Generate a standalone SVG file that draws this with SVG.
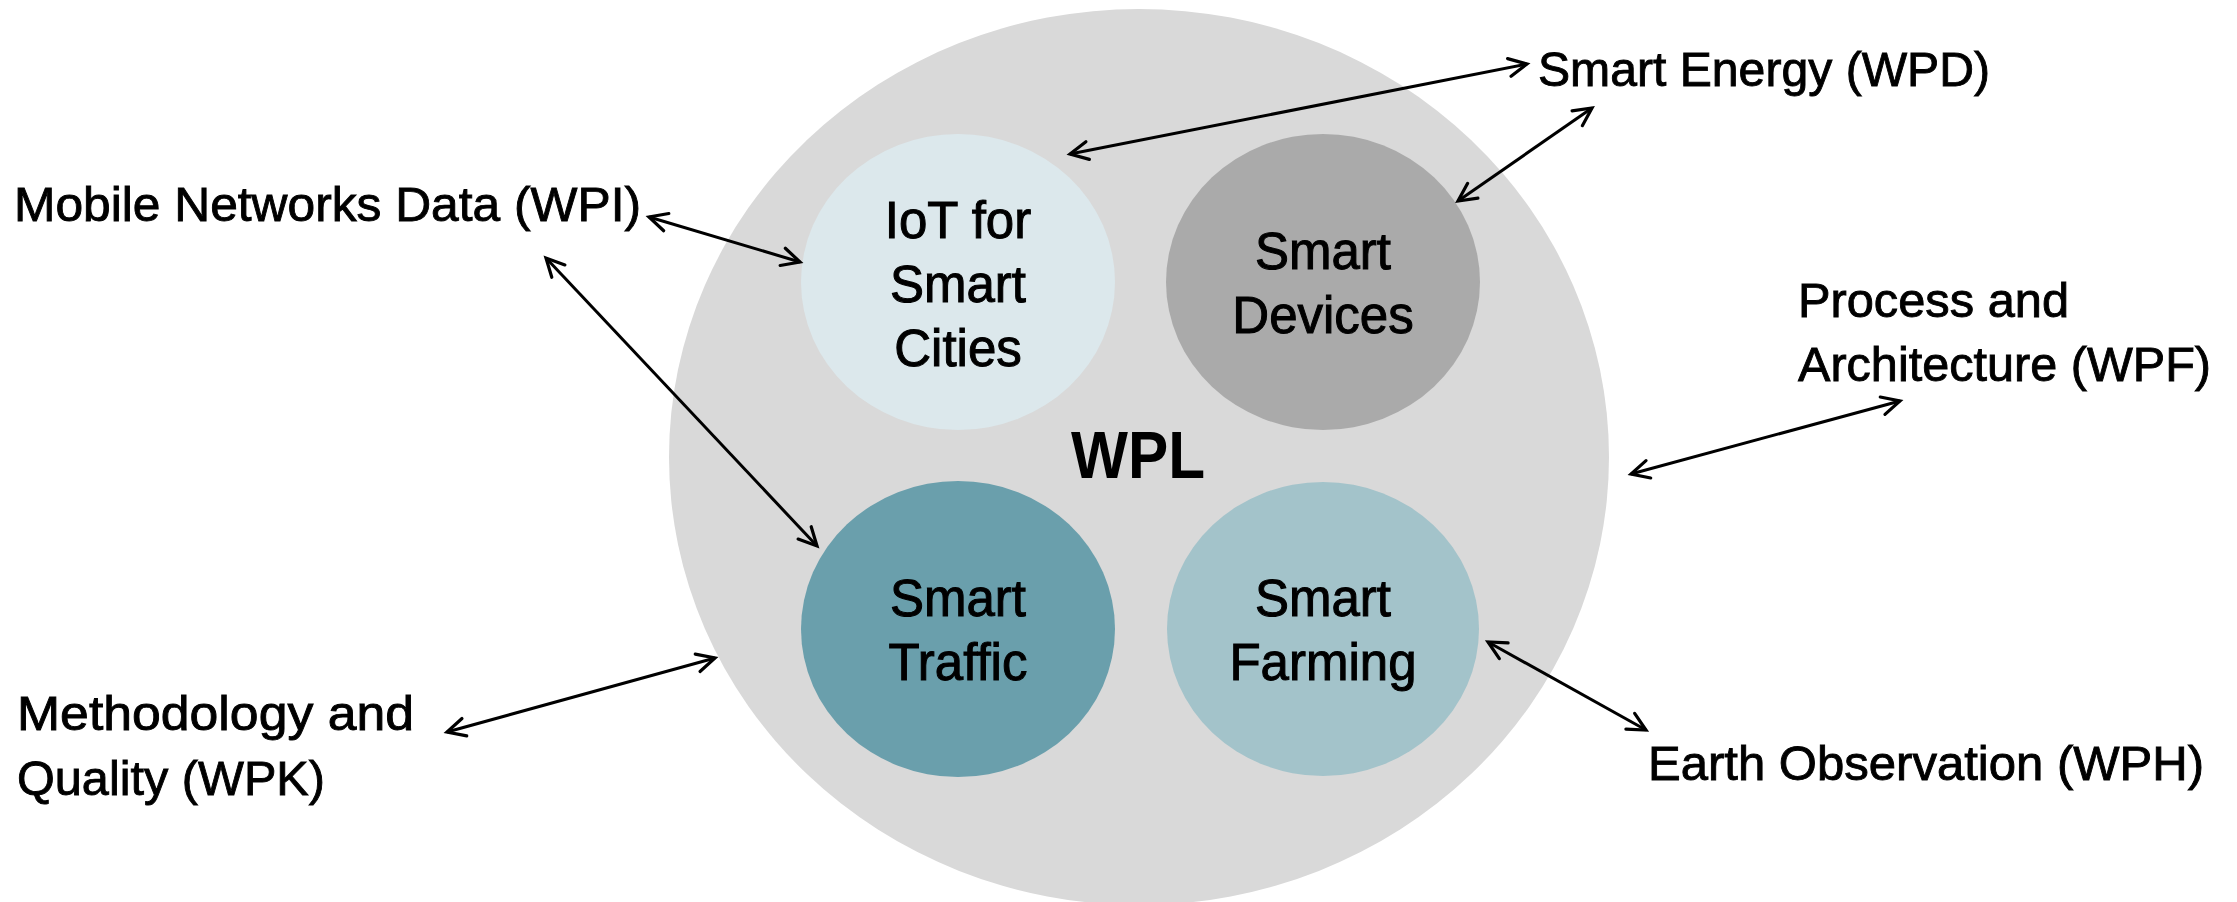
<svg xmlns="http://www.w3.org/2000/svg" width="2237" height="902" viewBox="0 0 2237 902">
<style>
.lbl{font-family:"Liberation Sans",Arial,sans-serif;font-size:49px;fill:#000;stroke:#000;stroke-width:0.9}
.ctr{font-family:"Liberation Sans",Arial,sans-serif;font-size:51px;fill:#000;stroke:#000;stroke-width:1;text-anchor:middle}
.wpl{font-family:"Liberation Sans",Arial,sans-serif;font-size:66px;font-weight:bold;fill:#000;text-anchor:middle}
.con{stroke:#000;stroke-width:3;fill:none;marker-start:url(#arr);marker-end:url(#arr)}
</style>
<defs>
<marker id="arr" viewBox="-22 -12 26 24" markerWidth="26" markerHeight="24" refX="0" refY="0" orient="auto-start-reverse" markerUnits="userSpaceOnUse">
<path d="M-18,-9 L0,0 L-18,9" fill="none" stroke="#000" stroke-width="3.2" stroke-linecap="round"/>
</marker>
</defs>
<rect width="2237" height="902" fill="#fff"/>
<g id="wpl">
<ellipse cx="1139" cy="457" rx="470" ry="448" fill="#d9d9d9"/>
<text class="wpl" x="1138" y="478" textLength="134" lengthAdjust="spacingAndGlyphs">WPL</text>
</g>
<g id="iot">
<ellipse cx="958" cy="282" rx="157" ry="148" fill="#dce8ec"/>
<text class="ctr" x="958" y="238">IoT for</text>
<text class="ctr" x="958" y="302">Smart</text>
<text class="ctr" x="958" y="366">Cities</text>
</g>
<g id="devices">
<ellipse cx="1323" cy="282" rx="157" ry="148" fill="#aaaaaa"/>
<text class="ctr" x="1323" y="269">Smart</text>
<text class="ctr" x="1323" y="333">Devices</text>
</g>
<g id="traffic">
<ellipse cx="958" cy="629" rx="157" ry="148" fill="#6a9fac"/>
<text class="ctr" x="958" y="616">Smart</text>
<text class="ctr" x="958" y="680">Traffic</text>
</g>
<g id="farming">
<ellipse cx="1323" cy="629" rx="156" ry="147" fill="#a3c3ca"/>
<text class="ctr" x="1323" y="616">Smart</text>
<text class="ctr" x="1323" y="680">Farming</text>
</g>
<g id="energy"><text class="lbl" x="1538" y="86" textLength="452" lengthAdjust="spacingAndGlyphs">Smart Energy (WPD)</text></g>
<g id="mobile"><text class="lbl" x="14" y="221" textLength="627" lengthAdjust="spacingAndGlyphs">Mobile Networks Data (WPI)</text></g>
<g id="process"><text class="lbl" x="1798" y="317" textLength="271" lengthAdjust="spacingAndGlyphs">Process and</text><text class="lbl" x="1798" y="381" textLength="413" lengthAdjust="spacingAndGlyphs">Architecture (WPF)</text></g>
<g id="method"><text class="lbl" x="17" y="730" textLength="397" lengthAdjust="spacingAndGlyphs">Methodology and</text><text class="lbl" x="17" y="795" textLength="308" lengthAdjust="spacingAndGlyphs">Quality (WPK)</text></g>
<g id="earth"><text class="lbl" x="1648" y="780" textLength="556" lengthAdjust="spacingAndGlyphs">Earth Observation (WPH)</text></g>
<g id="connectors">
<line class="con" x1="1070" y1="154" x2="1527" y2="64"/>
<line class="con" x1="1458" y1="201" x2="1592" y2="108"/>
<line class="con" x1="649" y1="217" x2="800" y2="262"/>
<line class="con" x1="546" y1="258" x2="817" y2="546"/>
<line class="con" x1="1631" y1="474" x2="1900" y2="401"/>
<line class="con" x1="447" y1="732" x2="715" y2="658"/>
<line class="con" x1="1488" y1="642" x2="1646" y2="730"/>
</g>
</svg>
